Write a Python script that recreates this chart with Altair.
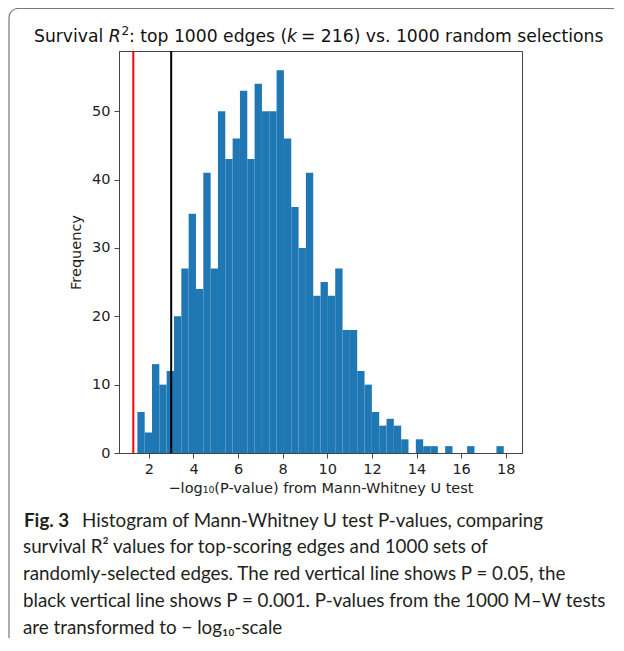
import altair as alt
import pandas as pd

# ---- data ----
BIN_START = 1.483          # left edge of first bin
BIN_WIDTH = 0.3286         # width of each of the 50 bins
COUNTS = [6, 3, 13, 10, 12, 20, 27, 35, 24, 41,
          27, 50, 43, 46, 53, 43, 54, 50, 50, 56,
          46, 36, 30, 41, 23, 25, 23, 27, 18, 18,
          12, 10, 6, 4, 5, 4, 2, 0, 2, 1,
          1, 0, 1, 0, 0, 1, 0, 0, 0, 1]
REF_LINES = [1.30103, 3.0]          # -log10(0.05), -log10(0.001)
REF_COLORS = ["#ff0000", "#000000"]
X_TICKS = [2, 4, 6, 8, 10, 12, 14, 16, 18]
Y_TICKS = [0, 10, 20, 30, 40, 50]

# title pieces: (text, style)
TITLE_PARTS = [
    ("Survival ", "normal"),
    ("R", "italic"),
    ("2", "sup"),
    (": top 1000 edges (", "normal"),
    ("k", "italic"),
    (" = 216) vs. 1000 random selections", "normal"),
]
TITLE_X = [34, 108.8, 121.5, 129, 287, 301]   # page x of each piece
X_TITLE = "−log₁₀(P-value) from Mann-Whitney U test"
Y_TITLE = "Frequency"
CAPTION_BOLD = "Fig. 3"
CAPTION = [
    "Histogram of Mann-Whitney U test P-values, comparing",
    "survival R² values for top-scoring edges and 1000 sets of",
    "randomly-selected edges. The red vertical line shows P = 0.05, the",
    "black vertical line shows P = 0.001. P-values from the 1000 M–W tests",
    "are transformed to − log₁₀-scale",
]

W, H = 403, 402
OX, OY = 119, 51      # page position of the plot area
bins = pd.DataFrame({
    "start": [BIN_START + i * BIN_WIDTH for i in range(len(COUNTS))],
    "end": [BIN_START + (i + 1) * BIN_WIDTH for i in range(len(COUNTS))],
    "count": COUNTS,
})
refs = pd.DataFrame({"x": REF_LINES, "color": REF_COLORS})

xscale = alt.Scale(domain=[0.66, 18.73], nice=False, zero=False)
yscale = alt.Scale(domain=[0, 58.8], nice=False)

base_axis = dict(
    labelFont="DejaVu Sans", labelFontSize=14.5, labelColor="#222",
    titleFont="DejaVu Sans", titleFontSize=14.5, titleColor="#222",
    titleFontWeight="normal", grid=False, domainColor="#444",
    tickColor="#444", tickSize=5, labelPadding=4,
)

bars = alt.Chart(bins).mark_rect(color="#1f77b4").encode(
    x=alt.X("start:Q", scale=xscale,
            axis=alt.Axis(values=X_TICKS, title=X_TITLE, titlePadding=6, **base_axis)),
    x2="end:Q",
    y=alt.Y("count:Q", scale=yscale,
            axis=alt.Axis(values=Y_TICKS, title=Y_TITLE, titlePadding=8, **base_axis)),
    y2=alt.datum(0),
)

rules = alt.Chart(refs).mark_rule(strokeWidth=2).encode(
    x=alt.X("x:Q", scale=xscale),
    color=alt.Color("color:N", scale=None),
)

one = pd.DataFrame({"a": [0]})
frame = alt.Chart(one).mark_rect(
    fill=None, stroke="#777", strokeWidth=1.2, cornerRadius=9
).encode(
    x=alt.value(9 - OX), x2=alt.value(700), y=alt.value(8.5 - OY), y2=alt.value(800)
)

title_layers = []
for (txt, style), px in zip(TITLE_PARTS, TITLE_X):
    kw = dict(font="DejaVu Sans", fontSize=17.2, color="#111",
              baseline="alphabetic", align="left")
    y = 42 - OY
    if style == "italic":
        kw["fontStyle"] = "italic"
    if style == "sup":
        kw["fontSize"] = 12.2
        y -= 7
    title_layers.append(
        alt.Chart(one).mark_text(**kw).encode(
            x=alt.value(px - OX), y=alt.value(y), text=alt.value(txt))
    )

cap_font = "Lato"
cap_size = 18.8
cap_y = [b - OY for b in [526.5, 553.3, 580, 606.8, 633.5]]
cap_layers = [
    alt.Chart(one).mark_text(
        font=cap_font, fontSize=cap_size, fontWeight="bold", color="#231f20",
        align="left", baseline="alphabetic"
    ).encode(x=alt.value(24 - OX), y=alt.value(cap_y[0]), text=alt.value(CAPTION_BOLD))
]
for i, line in enumerate(CAPTION):
    x0 = (82 if i == 0 else 23) - OX
    cap_layers.append(
        alt.Chart(one).mark_text(
            font=cap_font, fontSize=cap_size, color="#231f20",
            align="left", baseline="alphabetic"
        ).encode(x=alt.value(x0), y=alt.value(cap_y[i]), text=alt.value(line))
    )

chart = alt.layer(frame, bars, rules, *title_layers, *cap_layers).properties(
    width=W, height=H,
    autosize=alt.AutoSizeParams(type="none"),
    padding={"left": OX - 8, "top": OY - 8, "right": 606 - (OX - 8) - W,
             "bottom": 630 - (OY - 8) - H},
).configure_view(stroke="#444", strokeWidth=1)

chart.save("out.html", embed_options={"renderer": "svg", "actions": False})
